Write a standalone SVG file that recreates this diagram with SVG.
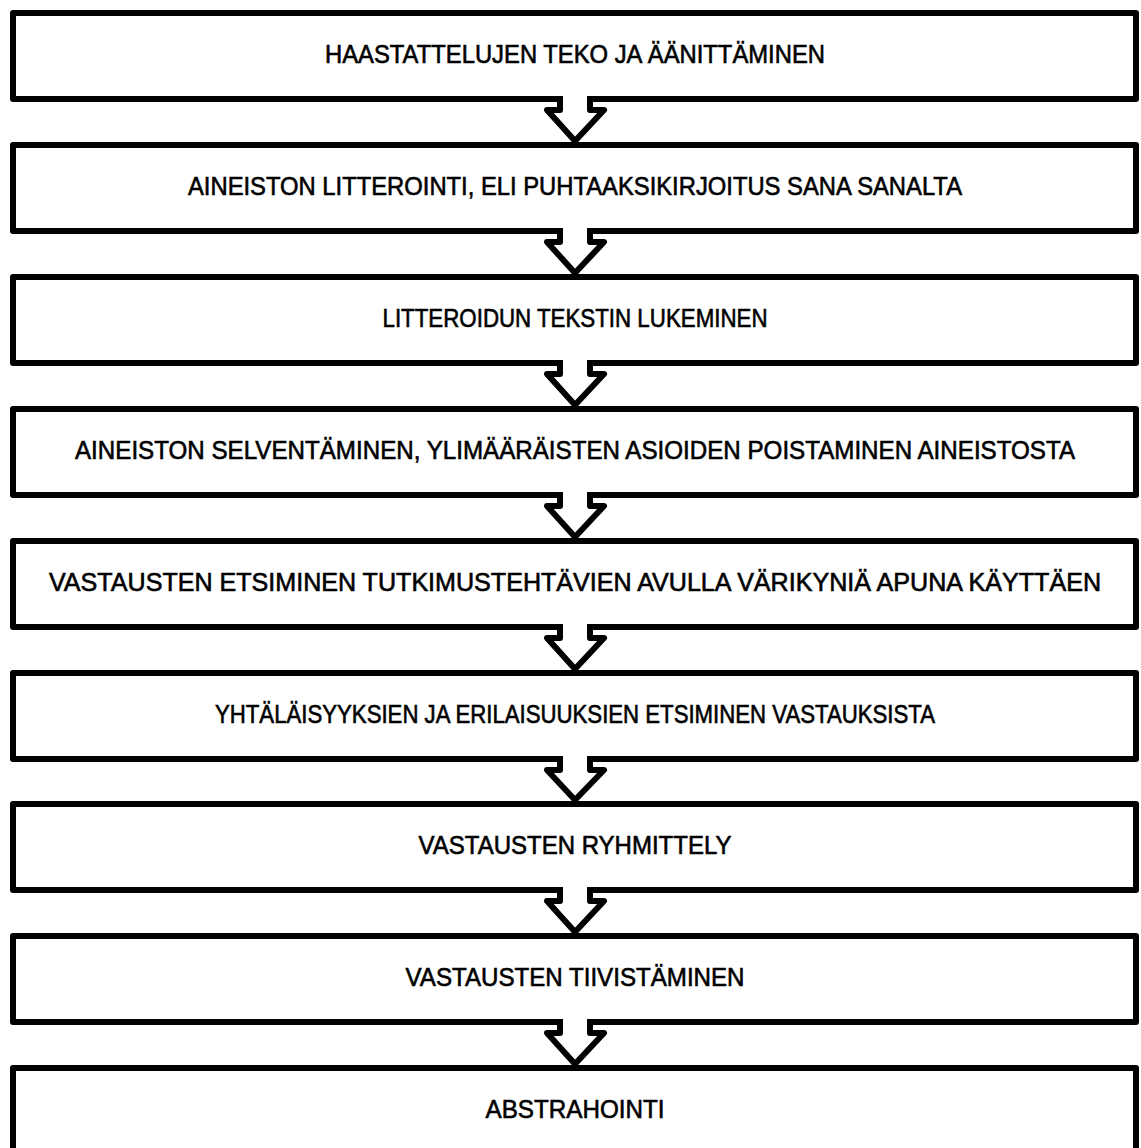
<svg xmlns="http://www.w3.org/2000/svg" width="1141" height="1148" viewBox="0 0 1141 1148">
<style>
.box{fill:#fff;stroke:#000;stroke-width:6;stroke-linejoin:round}
.lbl{font-family:"Liberation Sans",Arial,sans-serif;font-size:25px;fill:#000;stroke:#000;stroke-width:0.6;text-anchor:middle}
.cover{fill:#fff;stroke:none}
.arr{fill:#fff;stroke:#000;stroke-width:6;stroke-linejoin:round;stroke-linecap:butt}
</style>
<rect width="1141" height="1148" fill="#fff"/>
<g id="n1"><rect class="box" x="13" y="13" width="1123" height="86"/><text class="lbl" x="575" y="63" textLength="500" lengthAdjust="spacingAndGlyphs">HAASTATTELUJEN TEKO JA ÄÄNITTÄMINEN</text></g>
<g id="n2"><rect class="box" x="13" y="145" width="1123" height="86"/><text class="lbl" x="575" y="195" textLength="774" lengthAdjust="spacingAndGlyphs">AINEISTON LITTEROINTI, ELI PUHTAAKSIKIRJOITUS SANA SANALTA</text></g>
<g id="n3"><rect class="box" x="13" y="277" width="1123" height="86"/><text class="lbl" x="575" y="327" textLength="385" lengthAdjust="spacingAndGlyphs">LITTEROIDUN TEKSTIN LUKEMINEN</text></g>
<g id="n4"><rect class="box" x="13" y="409" width="1123" height="86"/><text class="lbl" x="575" y="459" textLength="1000" lengthAdjust="spacingAndGlyphs">AINEISTON SELVENTÄMINEN, YLIMÄÄRÄISTEN ASIOIDEN POISTAMINEN AINEISTOSTA</text></g>
<g id="n5"><rect class="box" x="13" y="541" width="1123" height="86"/><text class="lbl" x="575" y="591" textLength="1052" lengthAdjust="spacingAndGlyphs">VASTAUSTEN ETSIMINEN TUTKIMUSTEHTÄVIEN AVULLA VÄRIKYNIÄ APUNA KÄYTTÄEN</text></g>
<g id="n6"><rect class="box" x="13" y="673" width="1123" height="86"/><text class="lbl" x="575" y="723" textLength="720" lengthAdjust="spacingAndGlyphs">YHTÄLÄISYYKSIEN JA ERILAISUUKSIEN ETSIMINEN VASTAUKSISTA</text></g>
<g id="n7"><rect class="box" x="13" y="804" width="1123" height="86"/><text class="lbl" x="575" y="854" textLength="313" lengthAdjust="spacingAndGlyphs">VASTAUSTEN RYHMITTELY</text></g>
<g id="n8"><rect class="box" x="13" y="936" width="1123" height="86"/><text class="lbl" x="575" y="986" textLength="339" lengthAdjust="spacingAndGlyphs">VASTAUSTEN TIIVISTÄMINEN</text></g>
<g id="n9"><rect class="box" x="13" y="1068" width="1123" height="86"/><text class="lbl" x="575" y="1118" textLength="179" lengthAdjust="spacingAndGlyphs">ABSTRAHOINTI</text></g>
<g id="connectors">
<g transform="translate(0,99)"><rect class="cover" x="563" y="-4" width="24" height="8"/><path class="arr" d="M560,-3 L560,11 L547,11 L575,42 L604,11 L590,11 L590,-3"/></g>
<g transform="translate(0,231)"><rect class="cover" x="563" y="-4" width="24" height="8"/><path class="arr" d="M560,-3 L560,11 L547,11 L575,42 L604,11 L590,11 L590,-3"/></g>
<g transform="translate(0,363)"><rect class="cover" x="563" y="-4" width="24" height="8"/><path class="arr" d="M560,-3 L560,11 L547,11 L575,42 L604,11 L590,11 L590,-3"/></g>
<g transform="translate(0,495)"><rect class="cover" x="563" y="-4" width="24" height="8"/><path class="arr" d="M560,-3 L560,11 L547,11 L575,42 L604,11 L590,11 L590,-3"/></g>
<g transform="translate(0,627)"><rect class="cover" x="563" y="-4" width="24" height="8"/><path class="arr" d="M560,-3 L560,11 L547,11 L575,42 L604,11 L590,11 L590,-3"/></g>
<g transform="translate(0,759)"><rect class="cover" x="563" y="-4" width="24" height="8"/><path class="arr" d="M560,-3 L560,11 L547,11 L575,41 L604,11 L590,11 L590,-3"/></g>
<g transform="translate(0,890)"><rect class="cover" x="563" y="-4" width="24" height="8"/><path class="arr" d="M560,-3 L560,11 L547,11 L575,42 L604,11 L590,11 L590,-3"/></g>
<g transform="translate(0,1022)"><rect class="cover" x="563" y="-4" width="24" height="8"/><path class="arr" d="M560,-3 L560,11 L547,11 L575,42 L604,11 L590,11 L590,-3"/></g>
</g>
</svg>
